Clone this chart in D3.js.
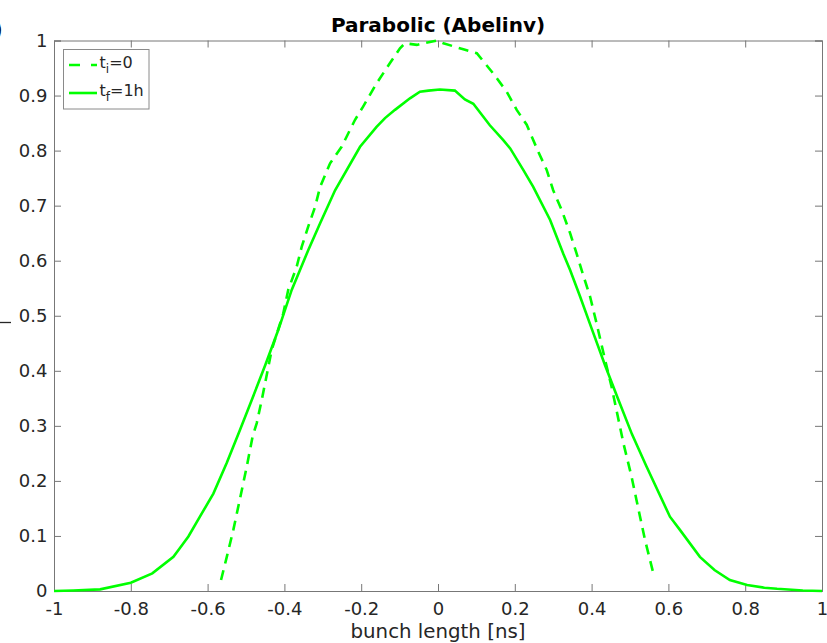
<!DOCTYPE html>
<html>
<head>
<meta charset="utf-8">
<script src="https://cdn.jsdelivr.net/npm/d3@7"></script>
<style>
  body { margin: 0; background: #fff; }
  text { font-family: "DejaVu Sans", sans-serif; }
</style>
</head>
<body>
<script>
// bunch profiles
const initialX = [-0.565, -0.55, -0.533, -0.511, -0.498, -0.483, -0.472, -0.459, -0.433, -0.403, -0.39, -0.368, -0.355, -0.338, -0.32, -0.307, -0.281, -0.251, -0.216, -0.195, -0.16, -0.125, -0.099, -0.086, -0.055, -0.038, -0.003, 0.014, 0.066, 0.101, 0.144, 0.179, 0.205, 0.231, 0.261, 0.283, 0.3, 0.322, 0.344, 0.361, 0.378, 0.396, 0.413, 0.435, 0.452, 0.474, 0.483, 0.504, 0.517, 0.539, 0.563];
const initialY = [0.02, 0.062, 0.111, 0.183, 0.226, 0.28, 0.305, 0.347, 0.438, 0.504, 0.547, 0.589, 0.625, 0.662, 0.698, 0.734, 0.777, 0.807, 0.856, 0.88, 0.922, 0.959, 0.986, 0.995, 0.992, 0.995, 1.0, 0.995, 0.984, 0.977, 0.94, 0.907, 0.874, 0.847, 0.798, 0.765, 0.728, 0.692, 0.65, 0.613, 0.574, 0.535, 0.486, 0.42, 0.371, 0.298, 0.268, 0.208, 0.165, 0.093, 0.026];

const finalX = [-1, -0.95, -0.88, -0.8, -0.744, -0.689, -0.672, -0.65, -0.62, -0.585, -0.55, -0.516, -0.485, -0.45, -0.416, -0.381, -0.338, -0.307, -0.268, -0.203, -0.16, -0.138, -0.112, -0.073, -0.047, -0.025, 0.005, 0.044, 0.07, 0.092, 0.135, 0.17, 0.188, 0.222, 0.248, 0.292, 0.326, 0.344, 0.37, 0.4, 0.435, 0.47, 0.505, 0.543, 0.604, 0.63, 0.682, 0.72, 0.76, 0.805, 0.85, 0.883, 0.95, 1];
const finalY = [0, 0.001, 0.003, 0.015, 0.032, 0.062, 0.078, 0.099, 0.135, 0.177, 0.233, 0.292, 0.347, 0.41, 0.474, 0.547, 0.619, 0.668, 0.728, 0.807, 0.843, 0.859, 0.874, 0.895, 0.907, 0.909, 0.911, 0.909, 0.893, 0.885, 0.846, 0.819, 0.804, 0.765, 0.734, 0.674, 0.613, 0.583, 0.535, 0.477, 0.41, 0.347, 0.285, 0.226, 0.135, 0.111, 0.062, 0.038, 0.02, 0.011, 0.006, 0.004, 0.001, 0];

const xTicks = [-1, -0.8, -0.6, -0.4, -0.2, 0, 0.2, 0.4, 0.6, 0.8, 1];
const yTicks = [0, 0.1, 0.2, 0.3, 0.4, 0.5, 0.6, 0.7, 0.8, 0.9, 1];

const width = 827;
const height = 643;
const plotLeft = 54, plotRight = 822, plotTop = 40.5, plotBottom = 591;
const green = "#00ff00";
const axisColor = "#777777";
const labelColor = "#262626";
const tickLen = 7;

const svg = d3.select("body")
  .append("svg")
  .attr("width", width)
  .attr("height", height);

const x = d3.scaleLinear().domain([-1, 1]).range([plotLeft, plotRight]);
const y = d3.scaleLinear().domain([0, 1]).range([plotBottom, plotTop]);

// axes, ticks inward on all four sides
const fmt = d => String(+d.toFixed(1));

svg.append("g")
  .attr("transform", `translate(0,${plotBottom})`)
  .call(d3.axisBottom(x).tickValues(xTicks).tickSize(-tickLen).tickPadding(11).tickFormat(fmt))
  .call(g => g.selectAll("text").style("font-size", "18px").attr("fill", labelColor))
  .call(g => g.selectAll("line, path").attr("stroke", axisColor));

svg.append("g")
  .attr("transform", `translate(0,${plotTop})`)
  .call(d3.axisTop(x).tickValues(xTicks).tickSize(-tickLen).tickFormat(""))
  .call(g => g.selectAll("line, path").attr("stroke", axisColor));

svg.append("g")
  .attr("transform", `translate(${plotLeft},0)`)
  .call(d3.axisLeft(y).tickValues(yTicks).tickSize(-tickLen).tickPadding(6.5).tickFormat(fmt))
  .call(g => g.selectAll("text").style("font-size", "18px").attr("fill", labelColor))
  .call(g => g.selectAll("line, path").attr("stroke", axisColor));

svg.append("g")
  .attr("transform", `translate(${plotRight},0)`)
  .call(d3.axisRight(y).tickValues(yTicks).tickSize(-tickLen).tickFormat(""))
  .call(g => g.selectAll("line, path").attr("stroke", axisColor));

// curves
const line = d3.line()
  .x(d => x(d[0]))
  .y(d => y(d[1]));

svg.append("path")
  .datum(d3.zip(initialX, initialY))
  .attr("d", line)
  .attr("fill", "none")
  .attr("stroke", green)
  .attr("stroke-width", 2.6)
  .attr("stroke-dasharray", "10,7");

svg.append("path")
  .datum(d3.zip(finalX, finalY))
  .attr("d", line)
  .attr("fill", "none")
  .attr("stroke", green)
  .attr("stroke-width", 2.6);

// title and x label
svg.append("text")
  .attr("x", (plotLeft + plotRight) / 2)
  .attr("y", 32)
  .attr("text-anchor", "middle")
  .style("font-size", "20px")
  .style("font-weight", "bold")
  .attr("fill", "#000")
  .text("Parabolic (Abelinv)");

svg.append("text")
  .attr("x", (plotLeft + plotRight) / 2)
  .attr("y", 638)
  .attr("text-anchor", "middle")
  .style("font-size", "19.8px")
  .attr("fill", labelColor)
  .text("bunch length [ns]");

// cut-off panel label and y label remnants at the left edge
svg.append("text")
  .attr("x", 3)
  .attr("y", 38)
  .attr("text-anchor", "end")
  .style("font-size", "25px")
  .attr("fill", "#000")
  .text("(a)");

svg.append("line")
  .attr("x1", 0)
  .attr("x2", 11)
  .attr("y1", 322.5)
  .attr("y2", 322.5)
  .attr("stroke", labelColor)
  .attr("stroke-width", 1.3);

// legend
const legend = svg.append("g");

legend.append("rect")
  .attr("x", 63.5)
  .attr("y", 49.5)
  .attr("width", 85.5)
  .attr("height", 59.5)
  .attr("fill", "#fff")
  .attr("stroke", "#8a8a8a")
  .attr("stroke-width", 1);

const legendRows = [
  { sub: "i", rest: "=0", dash: "11,11", yy: 65 },
  { sub: "f", rest: "=1h", dash: null, yy: 93 }
];

legendRows.forEach(r => {
  legend.append("line")
    .attr("x1", 69)
    .attr("x2", 97)
    .attr("y1", r.yy)
    .attr("y2", r.yy)
    .attr("stroke", green)
    .attr("stroke-width", 2.6)
    .attr("stroke-dasharray", r.dash);

  const t = legend.append("text")
    .attr("x", 99.5)
    .attr("y", r.yy + 2.5)
    .style("font-size", "16px")
    .attr("fill", labelColor);
  t.append("tspan").text("t");
  t.append("tspan").attr("dy", 5).style("font-size", "12px").text(r.sub);
  t.append("tspan").attr("dy", -5).text(r.rest);
});
</script>
</body>
</html>
